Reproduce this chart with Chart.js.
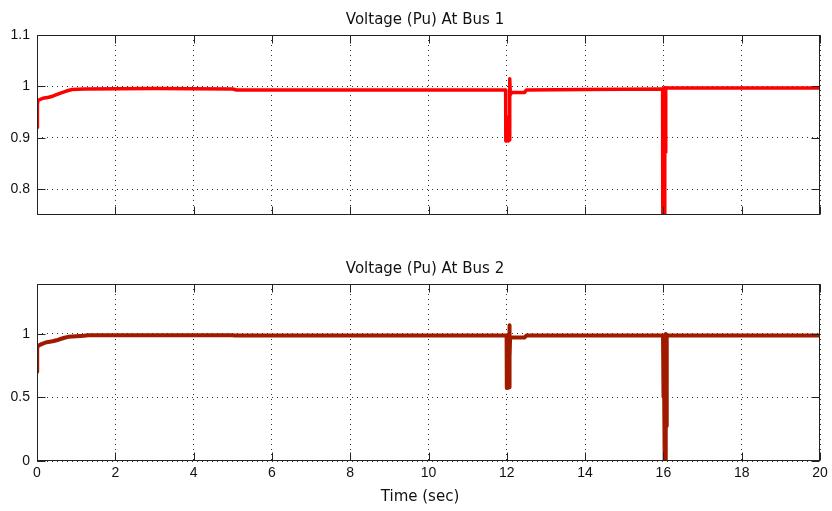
<!DOCTYPE html>
<html><head><meta charset="utf-8">
<script src="https://cdn.jsdelivr.net/npm/chart.js@4.4.0/dist/chart.umd.min.js"></script>
<style>
html,body{margin:0;padding:0;background:#fff;width:832px;height:511px;overflow:hidden}
canvas{position:absolute;left:0}
#c1{top:0}
#c2{top:240px}
</style></head><body>
<canvas id="c1" width="832" height="240"></canvas>
<canvas id="c2" width="832" height="271"></canvas>
<script>
// ---- text ----
const TITLE1 = 'Voltage (Pu) At Bus 1';
const TITLE2 = 'Voltage (Pu) At Bus 2';
const X_LABEL = 'Time (sec)';

// ---- ticks ----
const X_TICKS = [0, 2, 4, 6, 8, 10, 12, 14, 16, 18, 20];
const X_LABELS = ['0', '2', '4', '6', '8', '10', '12', '14', '16', '18', '20'];
const Y1_TICKS = [0.8, 0.9, 1, 1.1];
const Y1_LABELS = ['0.8', '0.9', '1', '1.1'];
const Y2_TICKS = [0, 0.5, 1];
const Y2_LABELS = ['0', '0.5', '1'];

// ---- series: bus 1 ----
const T1 = [0, 0.01, 0.03, 0.15, 0.3, 0.4, 0.5, 0.6, 0.75, 0.9, 1.2, 3, 5, 5.1, 8,
  11.97, 11.975, 11.99, 12.0, 12.02, 12.04, 12.06, 12.075, 12.09, 12.1, 12.45, 12.5, 14,
  15.98, 15.985, 16.0, 16.01, 16.02, 16.035, 16.05, 16.06, 18, 20];
const V1 = [0.92, 0.966, 0.973, 0.977, 0.979, 0.981, 0.984, 0.987, 0.991, 0.994, 0.995, 0.996, 0.995, 0.993, 0.993,
  0.993, 0.894, 0.94, 0.894, 0.94, 0.894, 0.896, 1.015, 0.985, 0.988, 0.988, 0.993, 0.994,
  0.995, 0.70, 0.80, 0.70, 0.75, 0.998, 0.872, 0.997, 0.997, 0.997];

// ---- series: bus 2 ----
const T2 = [0, 0.005, 0.03, 0.13, 0.25, 0.4, 0.5, 0.6, 0.7, 0.8, 1.0, 1.2, 1.3, 5, 5.05,
  11.995, 12.0, 12.02, 12.04, 12.06, 12.065, 12.075, 12.085, 12.45, 12.5,
  15.99, 15.995, 16.01, 16.02, 16.03, 16.04, 16.05, 16.06, 16.07, 16.08, 16.09, 18, 20];
const V2 = [0.70, 0.887, 0.905, 0.92, 0.933, 0.94, 0.948, 0.958, 0.968, 0.975, 0.98, 0.984, 0.988, 0.988, 0.985,
  0.985, 0.573, 0.60, 0.575, 0.58, 1.067, 0.815, 0.97, 0.97, 0.985,
  0.986, 0.505, 0.60, 0.505, -0.1, 0.51, -0.1, 0.998, 0.275, 0.725, 0.986, 0.986, 0.986];

Chart.defaults.font.family = "'Liberation Sans', Arial, sans-serif";
Chart.defaults.font.size = 14;
Chart.defaults.color = '#111';

const framePlugin = {
  id: 'frame',
  afterDatasetsDraw(chart, args, opts) {
    const ctx = chart.ctx, a = chart.chartArea;
    const xs = chart.scales.x, ys = chart.scales.y;
    ctx.save();
    ctx.strokeStyle = '#222';
    ctx.lineWidth = 1;
    const L = Math.round(a.left) + 0.5, R = Math.round(a.right) - 0.5;
    const T = Math.round(a.top) + 0.5, B = Math.round(a.bottom) - 0.5;
    ctx.strokeRect(L, T, R - L, B - T);
    const tl = 8;
    ctx.beginPath();
    X_TICKS.forEach(v => {
      const px = Math.round(xs.getPixelForValue(v)) + 0.5;
      ctx.moveTo(px, B); ctx.lineTo(px, B - tl);
      ctx.moveTo(px, T); ctx.lineTo(px, T + tl);
    });
    opts.yTicks.forEach(v => {
      const py = Math.round(ys.getPixelForValue(v)) + 0.5;
      ctx.moveTo(L, py); ctx.lineTo(L + tl, py);
      ctx.moveTo(R, py); ctx.lineTo(R - tl, py);
    });
    ctx.stroke();
    ctx.fillStyle = '#111';
    ctx.font = "15px 'DejaVu Sans'";
    ctx.textAlign = 'center';
    ctx.textBaseline = 'alphabetic';
    opts.texts.forEach(t => ctx.fillText(t.text, t.x, t.y));
    ctx.restore();
  }
};

function makeChart(id, T, V, color, lw, yMin, yMax, yTicks, yLabels, showX, pad, xH, texts) {
  const data = T.map((t, i) => ({ x: t, y: V[i] }));
  return new Chart(document.getElementById(id), {
    type: 'line',
    data: { datasets: [{ data, borderColor: color, borderWidth: lw, pointRadius: 0,
      tension: 0, clip: 0, borderJoinStyle: 'round', borderCapStyle: 'butt' }] },
    options: {
      responsive: false, animation: false, events: [],
      layout: { padding: pad },
      plugins: { legend: { display: false }, tooltip: { enabled: false },
        frame: { yTicks, texts } },
      scales: {
        x: {
          type: 'linear', min: 0, max: 20,
          afterBuildTicks: s => { s.ticks = X_TICKS.map(v => ({ value: v })); },
          afterFit: s => { s.height = xH; },
          ticks: { display: showX, padding: 4, maxRotation: 0, autoSkip: false,
            callback: v => X_LABELS[X_TICKS.indexOf(v)] },
          grid: { color: '#333', lineWidth: 1, drawTicks: false },
          border: { display: false, dash: [1, 4] }
        },
        y: {
          type: 'linear', min: yMin, max: yMax,
          afterBuildTicks: s => { s.ticks = yTicks.map(v => ({ value: v })); },
          afterFit: s => { s.width = 37; },
          ticks: { padding: 7, autoSkip: false,
            callback: v => yLabels[yTicks.indexOf(v)] },
          grid: { color: '#333', lineWidth: 1, drawTicks: false },
          border: { display: false, dash: [1, 4] }
        }
      }
    },
    plugins: [framePlugin]
  });
}

makeChart('c1', T1, V1, '#ff0000', 3.5, 0.75, 1.1, Y1_TICKS, Y1_LABELS, false,
  { left: 0, top: 35, right: 12, bottom: 25 }, 0,
  [{ text: TITLE1, x: 425, y: 24 }]);
makeChart('c2', T2, V2, '#a01a00', 4, 0, 1.39, Y2_TICKS, Y2_LABELS, true,
  { left: 0, top: 44, right: 12, bottom: 0 }, 50,
  [{ text: TITLE2, x: 425, y: 33 }, { text: X_LABEL, x: 420, y: 261 }]);
</script>
</body></html>
